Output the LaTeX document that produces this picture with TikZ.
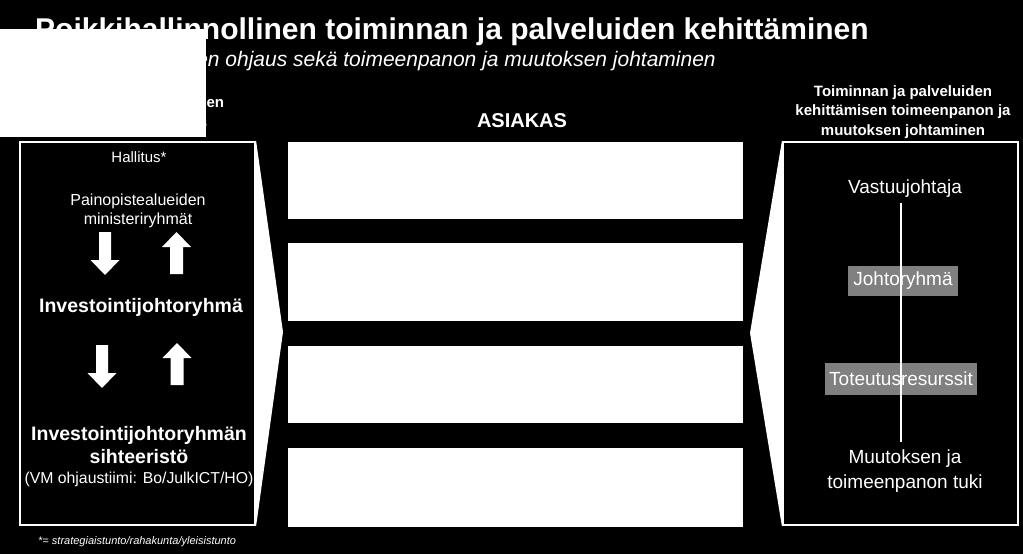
\documentclass[tikz,border=0pt]{standalone}
\usepackage{fontspec}
\setmainfont{Liberation Sans}
\newcommand{\myfs}[2]{\fontsize{#1}{#2}\selectfont}
\definecolor{boxgray}{RGB}{128,128,128}
\begin{document}
\begin{tikzpicture}[x=1pt,y=-1pt,
  txt/.style={text=white, inner sep=0pt},
  panel/.style={draw=white, line width=2.2pt, inner sep=0pt, minimum width=235pt, minimum height=383pt},
  wbox/.style={fill=white, inner sep=0pt, minimum width=455pt},
  graybox/.style={fill=boxgray, text=white, inner sep=0pt, font=\myfs{19}{23}},
  downarr/.pic={\fill[white] (-6,0) -- (6,0) -- (6,28) -- (14.5,28) -- (0,43) -- (-14.5,28) -- (-6,28) -- cycle;},
  uparr/.pic={\fill[white] (-6.5,42) -- (6.5,42) -- (6.5,15) -- (14.5,15) -- (0,0) -- (-14.5,15) -- (-6.5,15) -- cycle;},
]
\useasboundingbox (0,0) rectangle (1023,554);
\fill[black] (0,0) rectangle (1023,554);

% title and subtitle
\node[txt, font=\bfseries\myfs{30}{36}, anchor=base west] (title) at (35,39)
  {Poikkihallinnollinen toiminnan ja palveluiden kehittäminen};
\node[txt, font=\itshape\myfs{21}{25}, anchor=base east] (subtitle) at (716,66)
  {Strateginen ohjaus sekä toimeenpanon ja muutoksen johtaminen};

% column headings (base anchor = baseline of the last line)
\node[txt, font=\bfseries\myfs{15}{19.2}, align=center, anchor=base] (lhead) at (135,127)
  {Toiminnan ja palveluiden\\kehittämisen ohjaus};
\node[txt, font=\bfseries\myfs{20}{24}, anchor=base] (asiakas) at (522,127) {ASIAKAS};
\node[txt, font=\bfseries\myfs{15}{19.5}, align=center, anchor=base] (rhead) at (903,135)
  {Toiminnan ja palveluiden\\kehittämisen toimeenpanon ja\\muutoksen johtaminen};

% white cover rectangle
\fill[white] (0,29) rectangle (206,137);

% panels
\node[panel] (lp) at (137.5,333.5) {};
\node[panel] (rp) at (900.5,333.5) {};
\coordinate (ltip) at (283,332);
\coordinate (rtip) at (750,333);
\fill[white] (lp.north east) -- (ltip) -- (lp.south east) -- cycle;
\fill[white] (rp.north west) -- (rtip) -- (rp.south west) -- cycle;

% middle white boxes
\node[wbox, minimum height=77pt] (m1) at (515.5,180.5) {};
\node[wbox, minimum height=78pt] (m2) at (515.5,282) {};
\node[wbox, minimum height=77pt] (m3) at (515.5,384.5) {};
\node[wbox, minimum height=79pt] (m4) at (515.5,487.5) {};

% left panel content
\node[txt, font=\myfs{15}{18}, anchor=base] (hallitus) at (139,162) {Hallitus*};
\node[txt, font=\myfs{16}{19}, align=center, anchor=base] (paino) at (138,224)
  {Painopistealueiden\\ministeriryhmät};
\pic at (105,232) {downarr};
\pic at (176.5,232) {uparr};
\node[txt, font=\bfseries\myfs{19.5}{23}, anchor=base] (ijr) at (141,312) {Investointijohtoryhmä};
\pic at (102,345) {downarr};
\pic at (177,343) {uparr};
\node[txt, font=\bfseries\myfs{19.5}{23}, align=center, anchor=base] (siht) at (139,463)
  {Investointijohtoryhmän\\sihteeristö};
\node[txt, font=\myfs{15.8}{19}, anchor=base] (vm) at (139,483) {(VM ohjaustiimi: Bo/JulkICT/HO)};
\node[txt, font=\itshape\myfs{11}{13}, anchor=base west] (foot) at (38,544)
  {*= strategiaistunto/rahakunta/yleisistunto};

% right panel content
\node[txt, font=\myfs{19}{23}, anchor=base] (vastuu) at (905,193) {Vastuujohtaja};
\node[graybox, minimum width=110pt, minimum height=30pt] (jr) at (903,281) {Johtoryhmä};
\node[graybox, minimum width=152pt, minimum height=32pt] (tr) at (901,379) {Toteutusresurssit};
\node[txt, font=\myfs{19}{25}, align=center, anchor=base] (muutos) at (905,488)
  {Muutoksen ja\\toimeenpanon tuki};
\coordinate (ltop) at (901,203);
\coordinate (lbot) at (901,442);
\draw[white, line width=2pt] (ltop) -- (lbot);
\end{tikzpicture}
\end{document}
